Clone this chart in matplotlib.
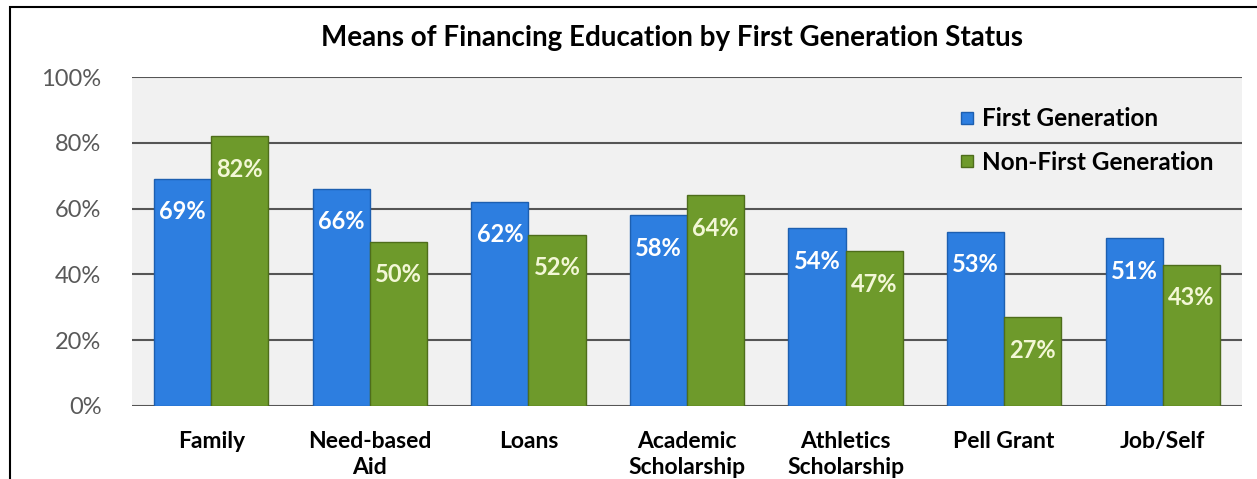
import matplotlib
matplotlib.use("Agg")
import matplotlib.pyplot as plt
import numpy as np
from matplotlib.patches import Rectangle
from matplotlib.lines import Line2D

categories = ["Family", "Need-based\nAid", "Loans", "Academic\nScholarship",
              "Athletics\nScholarship", "Pell Grant", "Job/Self"]
first_gen = [69, 66, 62, 58, 54, 53, 51]
non_first_gen = [82, 50, 52, 64, 47, 27, 43]
series_names = ["First Generation", "Non-First Generation"]
yticks = [0, 20, 40, 60, 80, 100]
title = "Means of Financing Education by First Generation Status"

plt.rcParams['font.family'] = ['Lato', 'DejaVu Sans']

W, H = 1257, 479
fig = plt.figure(figsize=(W / 100, H / 100), dpi=100)
ax = fig.add_axes([132 / W, 73 / H, 1110 / W, 329 / H])

# frame around the chart (left/top visible)
fig.patches.append(Rectangle((10 / W, -0.1), 1.2, (H - 7) / H + 0.1, transform=fig.transFigure,
                             fill=False, edgecolor="black", linewidth=1.5))

ax.set_facecolor("#f1f1f1")
x = np.arange(len(categories))
bw = 0.36
blue = "#2d7ee0"
green = "#6e9a2b"
ax.bar(x - bw / 2, first_gen, bw, color=blue, edgecolor="#1d5fb0", linewidth=1.0, zorder=3)
ax.bar(x + bw / 2, non_first_gen, bw, color=green, edgecolor="#4e6d1b", linewidth=1.0, zorder=3)

for xi, v in zip(x - bw / 2, first_gen):
    ax.text(xi, v - 10, f"{v}%", ha="center", va="center", color="white",
            fontsize=17, fontweight="bold", zorder=4)
for xi, v in zip(x + bw / 2, non_first_gen):
    ax.text(xi, v - 10, f"{v}%", ha="center", va="center", color="#f3f7d6",
            fontsize=17, fontweight="bold", zorder=4)

ax.set_ylim(0, 100)
ax.set_xlim(-0.5, len(categories) - 0.5)
ax.set_yticks(yticks)
ax.set_yticklabels([f"{t}%" for t in yticks], color="#595959", fontsize=17)
ax.yaxis.grid(True, color="#555555", linewidth=1.5, zorder=1)
ax.set_axisbelow(True)
ax.tick_params(axis="y", length=0, pad=22)
ax.set_xticks(x)
ax.set_xticklabels(categories, fontsize=16.5, fontweight="bold", color="black", linespacing=1.3)
ax.tick_params(axis="x", length=0, pad=18)
for s in ax.spines.values():
    s.set_visible(False)

fig.text(0.535, 1 - 38 / H, title, ha="center", va="center", fontsize=20, fontweight="bold")

handles = [Line2D([], [], marker="s", linestyle="none", markersize=9, markerfacecolor=blue,
                  markeredgecolor="#1d5fb0"),
           Line2D([], [], marker="s", linestyle="none", markersize=9, markerfacecolor=green,
                  markeredgecolor="#4e6d1b")]
leg = ax.legend(handles, series_names, loc="upper left", bbox_to_anchor=(943 / W, 1 - 95 / H),
                bbox_transform=fig.transFigure, frameon=False, prop={"size": 17.5, "weight": "bold"},
                handletextpad=0.1, labelspacing=0.85, handlelength=1.0, borderpad=0)

fig.savefig("out.png", dpi=100, facecolor="white")
